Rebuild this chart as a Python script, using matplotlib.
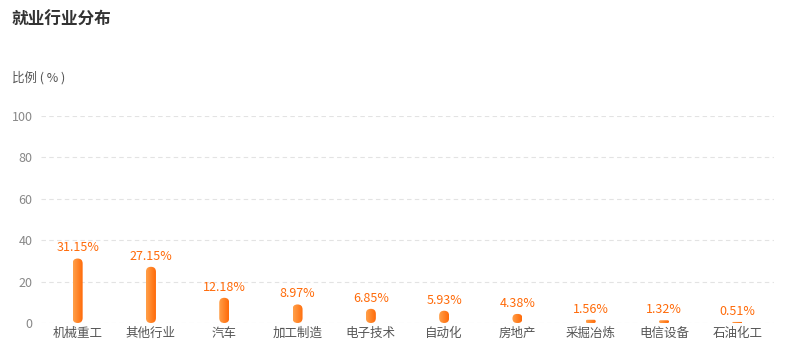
import numpy as np
import matplotlib
matplotlib.use('Agg')
from matplotlib import pyplot as plt
from matplotlib.patches import FancyBboxPatch
from matplotlib.colors import LinearSegmentedColormap

plt.rcParams['font.family'] = ['Noto Sans CJK SC', 'DejaVu Sans']

# 行业及占比
industries = ['机械重工', '其他行业', '汽车', '加工制造', '电子技术',
              '自动化', '房地产', '采掘冶炼', '电信设备', '石油化工']
shares = [31.15, 27.15, 12.18, 8.97, 6.85, 5.93, 4.38, 1.56, 1.32, 0.51]
yticks = [0, 20, 40, 60, 80, 100]

W, H = 786, 357
fig = plt.figure(figsize=(W / 100, H / 100), dpi=100)
ax = fig.add_axes([41 / W, 34 / H, 733 / W, 207 / H])
ax.set_xlim(-0.5, len(industries) - 0.5)
ax.set_ylim(0, 100)

for s in ax.spines.values():
    s.set_visible(False)
ax.set_yticks(yticks)
ax.set_yticklabels([str(t) for t in yticks], color='#888888', fontsize=9)
ax.set_xticks(range(len(industries)))
ax.set_xticklabels(industries, color='#555555', fontsize=9)
ax.tick_params(length=0)
ax.tick_params(axis='y', pad=6)
ax.tick_params(axis='x', pad=3)
for t in yticks:
    ax.axhline(t, color='#e3e3e3', lw=0.8, ls=(0, (4, 3)), zorder=0)

# 柱子：圆角 + 左浅右深渐变
cmap = LinearSegmentedColormap.from_list('org', ['#ffa04a', '#ff6a08'])
grad = np.linspace(0, 1, 64).reshape(1, -1)
bw = 10 / 733 * len(industries)
xpp = (len(industries)) / 733.0
ypp = 100 / 207.0
asp = ypp / xpp
for i, v in enumerate(shares):
    x0 = i - bw / 2
    r = min(bw / 2, v / asp / 2)
    box = FancyBboxPatch((x0, 0), bw, v,
                         boxstyle='round,pad=0,rounding_size=%f' % r,
                         mutation_aspect=asp, transform=ax.transData,
                         facecolor='none', edgecolor='none')
    ax.add_patch(box)
    im = ax.imshow(grad, cmap=cmap, extent=[x0, x0 + bw, 0, v],
                   aspect='auto', interpolation='bilinear', zorder=2)
    im.set_clip_path(box)
    ax.text(i, v + 2.0, '%.2f%%' % v, ha='center', va='bottom',
            color='#ff6a08', fontsize=9)

ax.set_xlim(-0.5, len(industries) - 0.5)
ax.set_ylim(0, 100)

fig.text(12 / W, 1 - 20 / H, '就业行业分布', fontsize=12, fontweight='bold',
         color='#333333', va='center', ha='left')
fig.text(12 / W, 1 - 78 / H, '比例 ( % )', fontsize=9, color='#555555',
         va='center', ha='left')

fig.savefig('out.png', dpi=100)
